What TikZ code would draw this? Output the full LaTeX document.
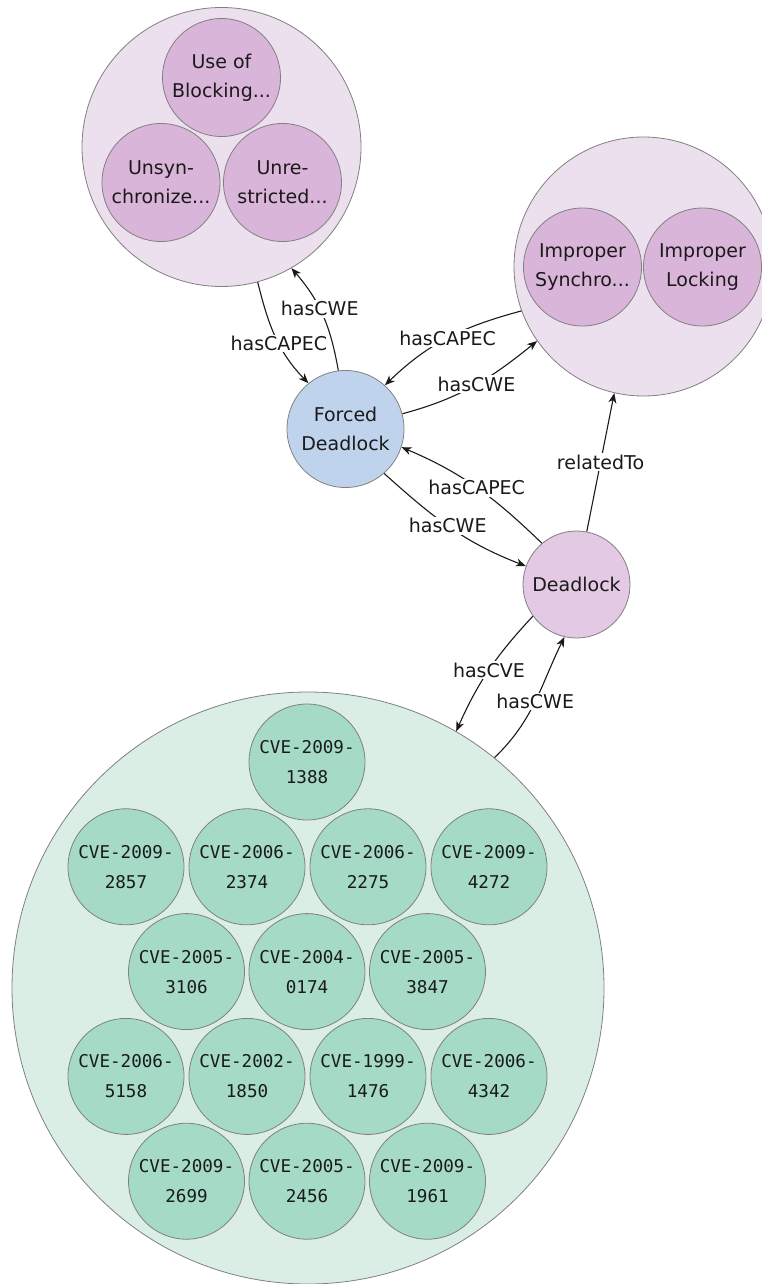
\documentclass[tikz,border=0pt]{standalone}
\usepackage{fontspec}
\setmainfont{DejaVu Sans}
\setmonofont{DejaVu Sans Mono}
\usetikzlibrary{arrows.meta}

\definecolor{rim}{HTML}{808080}
\definecolor{ink}{HTML}{1A1A1A}
\definecolor{cweouter}{HTML}{EDE0EE}
\definecolor{cweinner}{HTML}{D9B5D9}
\definecolor{cwemain}{HTML}{E3C9E3}
\definecolor{capec}{HTML}{BFD4EC}
\definecolor{cveouter}{HTML}{DAEEE6}
\definecolor{cveinner}{HTML}{A4DAC6}

\tikzset{
  ball/.style={circle, draw=rim, line width=0.8pt, inner sep=0pt, align=center,
    text=ink, font=\fontsize{19}{29}\selectfont},
  group/.style={ball, minimum size=#1},
  cwe/.style={ball, fill=cweinner, minimum size=118},
  cve/.style={ball, fill=cveinner, minimum size=116,
    font=\ttfamily\fontsize{17.6}{30}\selectfont},
  edge/.style={draw=ink, line width=1.1pt, -{Stealth[length=10pt,width=8pt,inset=3pt]}},
  lab/.style={fill=white, inner sep=1.5pt, text=ink, font=\fontsize{19}{22}\selectfont},
}

\begin{document}
\begin{tikzpicture}[x=1pt,y=1pt]
\useasboundingbox (0,0) rectangle (761,-1284);

% groups of weaknesses and vulnerabilities
\node[group=279, fill=cweouter] (A) at (221.5,-147) {};
\node[group=259, fill=cweouter] (B) at (643.5,-266.5) {};
\node[group=592, fill=cveouter] (C) at (308,-988) {};

% weaknesses of the first group
\node[cwe] (a1) at (221.5,-77.5) {Use of\\Blocking...};
\node[cwe] (a2) at (161,-182.5) {Unsyn-\\chronize...};
\node[cwe] (a3) at (282.5,-182.5) {Unre-\\stricted...};

% weaknesses of the second group
\node[cwe] (b1) at (582.5,-267) {Improper\\Synchro...};
\node[cwe] (b2) at (702.5,-267) {Improper\\Locking};

% attack pattern and main weakness
\node[ball, fill=capec, minimum size=117] (FD) at (345.5,-429) {Forced\\Deadlock};
\node[ball, fill=cwemain, minimum size=107] (D) at (576.5,-584.5) {Deadlock};

% vulnerabilities, hexagonally packed
\node[cve] (v1)  at (307,-762)      {CVE-2009-\\1388};
\node[cve] (v2)  at (126,-866.8)    {CVE-2009-\\2857};
\node[cve] (v3)  at (247,-866.8)    {CVE-2006-\\2374};
\node[cve] (v4)  at (368,-866.8)    {CVE-2006-\\2275};
\node[cve] (v5)  at (489,-866.8)    {CVE-2009-\\4272};
\node[cve] (v6)  at (186.5,-971.6)  {CVE-2005-\\3106};
\node[cve] (v7)  at (307,-971.6)    {CVE-2004-\\0174};
\node[cve] (v8)  at (427.5,-971.6)  {CVE-2005-\\3847};
\node[cve] (v9)  at (126,-1076.4)   {CVE-2006-\\5158};
\node[cve] (v10) at (247,-1076.4)   {CVE-2002-\\1850};
\node[cve] (v11) at (368,-1076.4)   {CVE-1999-\\1476};
\node[cve] (v12) at (489,-1076.4)   {CVE-2006-\\4342};
\node[cve] (v13) at (186.5,-1181.2) {CVE-2009-\\2699};
\node[cve] (v14) at (307,-1181.2)   {CVE-2005-\\2456};
\node[cve] (v15) at (427.5,-1181.2) {CVE-2009-\\1961};

% relations
\draw[edge] (A.-75.8) to[out=-76,in=134] node[lab,pos=0.57]{hasCAPEC} (FD.129.3);
\draw[edge] (FD.97.2) to[out=100,in=-49] node[lab,pos=0.57]{hasCWE} (A.-60.6);
\draw[edge] (B.200.5) to[out=195,in=44] node[lab]{hasCAPEC} (FD.48.6);
\draw[edge] (FD.15.6) to[out=15,in=219] node[lab,pos=0.52]{hasCWE} (B.215.7);
\draw[edge] (D.130.5) to[out=136,in=-23] node[lab]{hasCAPEC} (FD.-18.6);
\draw[edge] (FD.-49.3) to[out=-42,in=159] node[lab,pos=0.48]{hasCWE} (D.160);
\draw[edge] (D.79) -- node[lab]{relatedTo} (B.257.5);
\draw[edge] (D.216.1) to[out=227,in=66] node[lab]{hasCVE} (C.60);
\draw[edge] (C.51.9) to[out=44,in=244] node[lab]{hasCWE} (D.257.9);
\end{tikzpicture}
\end{document}
